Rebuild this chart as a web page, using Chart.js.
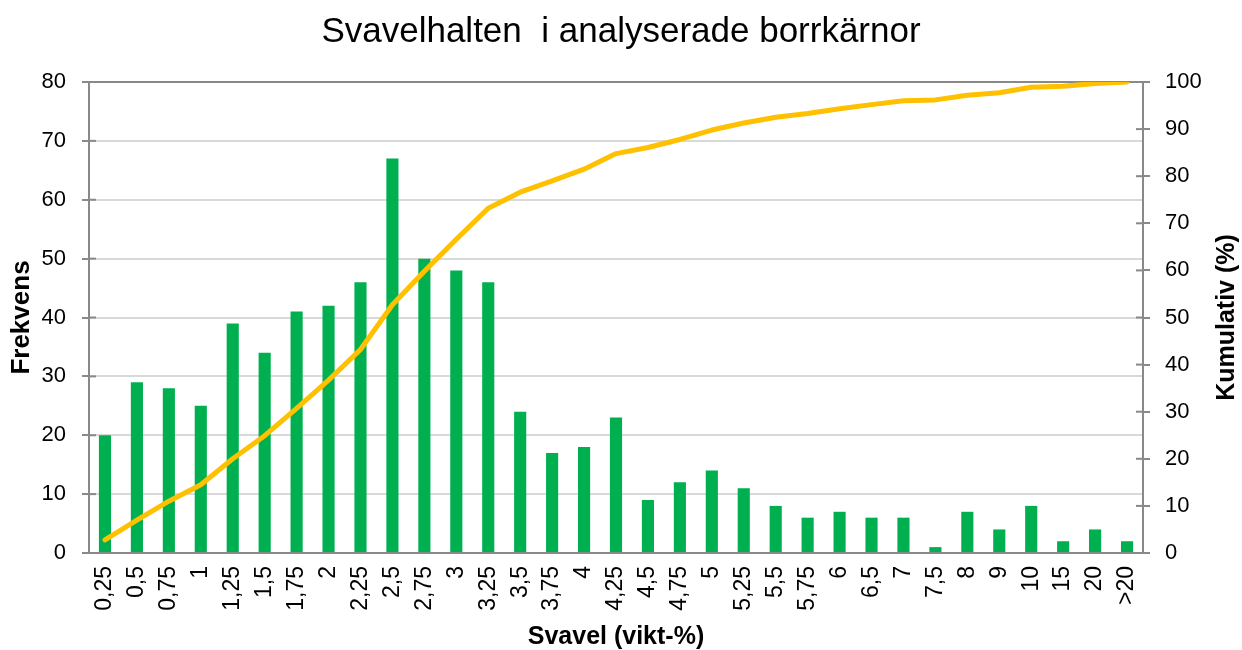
<!DOCTYPE html>
<html><head><meta charset="utf-8">
<script src="https://cdn.jsdelivr.net/npm/chart.js@4"></script>
<style>html,body{margin:0;padding:0;background:#fff}#wrap{width:1242px;height:650px}</style>
</head><body><div id="wrap"><canvas id="c" width="1242" height="650"></canvas></div>
<script>
const categories = ['0,25','0,5','0,75','1','1,25','1,5','1,75','2','2,25','2,5','2,75','3','3,25','3,5','3,75','4','4,25','4,5','4,75','5','5,25','5,5','5,75','6','6,5','7','7,5','8','9','10','15','20','>20'];
const frekvens = [20,29,28,25,39,34,41,42,46,67,50,48,46,24,17,18,23,9,12,14,11,8,6,7,6,6,1,7,4,8,2,4,2];
const kumulativ = [2.8,7.0,11.0,14.5,20.0,24.9,30.7,36.7,43.2,52.7,59.8,66.6,73.2,76.6,79.0,81.5,84.8,86.1,87.8,89.8,91.3,92.5,93.3,94.3,95.2,96.0,96.2,97.2,97.7,98.9,99.1,99.7,100];
const titleText = 'Svavelhalten  i analyserade borrkärnor';
const xTitle = 'Svavel (vikt-%)';
const yTitle = 'Frekvens';
const y1Title = 'Kumulativ (%)';

const FONT = "'Liberation Sans', Arial, sans-serif";
const AXIS = '#898989';

const crossTicks = {
  id: 'crossTicks',
  beforeDatasetsDraw(chart) {
    const ctx = chart.ctx, a = chart.chartArea;
    ctx.save();
    ctx.strokeStyle = AXIS; ctx.lineWidth = 2;
    const y = chart.scales.y, y1 = chart.scales.y1;
    y.ticks.forEach(t => { const p = y.getPixelForValue(t.value); ctx.beginPath(); ctx.moveTo(a.left, p); ctx.lineTo(a.left + 7, p); ctx.stroke(); });
    y1.ticks.forEach(t => { const p = y1.getPixelForValue(t.value); ctx.beginPath(); ctx.moveTo(a.right - 7, p); ctx.lineTo(a.right, p); ctx.stroke(); });
    ctx.beginPath(); ctx.moveTo(a.left - 7, a.bottom); ctx.lineTo(a.left, a.bottom); ctx.stroke();
    ctx.restore();
  },
  afterDraw(chart) {
    const ctx = chart.ctx, a = chart.chartArea;
    ctx.save();
    ctx.fillStyle = '#000';
    ctx.font = "bold 25px " + FONT;
    ctx.textAlign = 'center'; ctx.textBaseline = 'middle';
    ctx.translate(1227, (a.top + a.bottom) / 2);
    ctx.rotate(-Math.PI / 2);
    ctx.fillText(y1Title, 0, 0);
    ctx.restore();
  }
};

new Chart(document.getElementById('c'), {
  data: {
    labels: categories,
    datasets: [
      { type: 'line', label: y1Title, data: kumulativ, yAxisID: 'y1', borderColor: '#FFC000', backgroundColor: '#FFC000', borderWidth: 5, pointRadius: 0, tension: 0, borderCapStyle: 'round', borderJoinStyle: 'round', order: 0 },
      { type: 'bar', label: yTitle, data: frekvens, yAxisID: 'y', backgroundColor: '#00B050', categoryPercentage: 1, barPercentage: 0.38, order: 1 }
    ]
  },
  options: {
    responsive: false,
    animation: false,
    devicePixelRatio: 1,
    layout: { padding: 0 },
    plugins: {
      legend: { display: false },
      tooltip: { enabled: false },
      title: { display: true, text: titleText, color: '#000', font: { family: FONT, size: 35, weight: 'normal' }, padding: { top: 11, bottom: 29 } }
    },
    scales: {
      x: {
        grid: { display: false, drawTicks: false, tickLength: 0 },
        border: { color: AXIS, width: 2 },
        ticks: { color: '#000', font: { family: FONT, size: 23 }, minRotation: 90, maxRotation: 90, autoSkip: false, padding: 13 },
        title: { display: true, text: xTitle, color: '#000', font: { family: FONT, size: 25, weight: 'bold' }, padding: { top: 0, bottom: -2 } },
        afterFit(s) { s.height = 97; }
      },
      y: {
        position: 'left', min: 0, max: 80,
        ticks: { stepSize: 10, color: '#000', font: { family: FONT, size: 22 }, padding: 16 },
        grid: { color: c => (c.tick && c.tick.value === 80) ? AXIS : '#d9d9d9', lineWidth: 2, tickColor: AXIS, tickLength: 7 },
        border: { color: AXIS, width: 2 },
        title: { display: true, text: yTitle, color: '#000', font: { family: FONT, size: 26, weight: 'bold' }, padding: { top: 6, bottom: 0 } },
        afterFit(s) { s.width = 89; }
      },
      y1: {
        position: 'right', min: 0, max: 100,
        ticks: { stepSize: 10, color: '#000', font: { family: FONT, size: 22 }, padding: 15 },
        grid: { drawOnChartArea: false, lineWidth: 2, tickColor: AXIS, tickLength: 7 },
        border: { color: AXIS, width: 2 },
        title: { display: false, text: y1Title },
        afterFit(s) { s.width = 99; }
      }
    }
  },
  plugins: [crossTicks]
});
</script></body></html>
